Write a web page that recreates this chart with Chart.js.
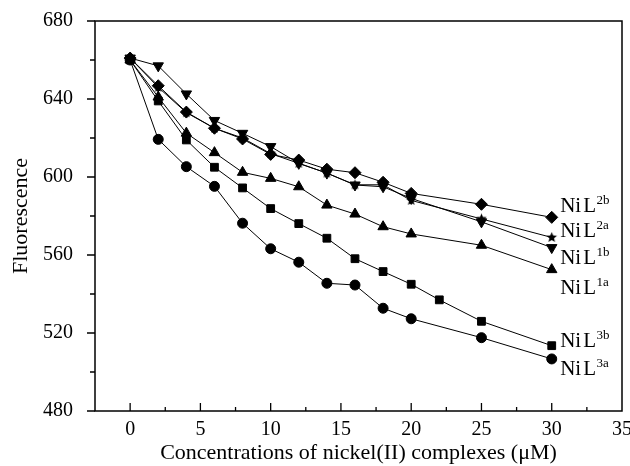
<!DOCTYPE html>
<html>
<head>
<meta charset="utf-8">
<script src="https://cdn.jsdelivr.net/npm/chart.js@4/dist/chart.umd.min.js"></script>
<style>
  html, body { margin: 0; padding: 0; background: #fff; }
</style>
</head>
<body>
<canvas id="myChart" width="630" height="466"></canvas>
<script>
// concentrations (uM)
const conc = [0, 2, 4, 6, 8, 10, 12, 14, 16, 18, 20, 25, 30];
const conc3b = [0, 2, 4, 6, 8, 10, 12, 14, 16, 18, 20, 22, 25, 30];

// fluorescence readings
const nil2b = [661, 646.8, 633.3, 625, 619.5, 611.6, 608.7, 604, 602.2, 597.3, 591.6, 586, 579.3];
const nil2a = [661, 646, 633, 625, 620, 612, 607, 602, 596, 596, 588, 578.5, 569];
const nil1b = [661, 657, 642.6, 629, 622.4, 615.6, 607, 602, 595.9, 595, 589, 577, 563.8];
const nil1a = [660, 641, 622.5, 612.5, 602.4, 599.3, 595, 585.6, 581, 574.5, 570.8, 565, 552.5];
const nil3b = [660, 639, 619, 605, 594.4, 583.8, 576.1, 568.6, 558.1, 551.5, 545, 537, 526, 513.5];
const nil3a = [660, 619.3, 605.3, 595.2, 576.3, 563.2, 556.3, 545.5, 544.6, 532.7, 527.3, 517.6, 506.7];

// series name labels on the right (superscript part, value where label sits)
const labelSup = ["2b", "2a", "1b", "1a", "3b", "3a"];
const labelAt = [585.6, 572.8, 559, 543.6, 516.4, 502];

const serif = "'Liberation Serif', 'Times New Roman', serif";

function makeStar(r) {
    let c = document.createElement("canvas");
    let s = Math.ceil(r * 2 + 2);
    c.width = s; c.height = s;
    let g = c.getContext("2d");
    g.fillStyle = "#000";
    g.beginPath();
    for (let i = 0; i < 10; i++) {
        let rr = i % 2 ? r * 0.45 : r;
        let ang = -Math.PI / 2 + i * Math.PI / 5;
        g.lineTo(s / 2 + rr * Math.cos(ang), s / 2 + rr * Math.sin(ang));
    }
    g.closePath();
    g.fill();
    return c;
}

function points(xs, ys) {
    return xs.map(function (x, i) { return { x: x, y: ys[i] }; });
}

function series(xs, ys, style, radius, rotation) {
    return {
        data: points(xs, ys),
        borderColor: "#000",
        backgroundColor: "#000",
        borderWidth: 1,
        pointStyle: style,
        pointRadius: radius,
        pointBorderWidth: 1,
        pointRotation: rotation || 0,
        tension: 0
    };
}

const axesBox = {
    id: "axesBox",
    afterDraw(chart) {
        const ctx = chart.ctx;
        const a = chart.chartArea;
        const x = chart.scales.x, y = chart.scales.y;
        ctx.save();
        ctx.strokeStyle = "#000";
        ctx.lineWidth = 1.5;
        ctx.strokeRect(a.left, a.top, a.right - a.left, a.bottom - a.top);

        ctx.lineWidth = 1.3;
        ctx.beginPath();
        for (let v = 480; v <= 680; v += 20) {
            let py = y.getPixelForValue(v);
            let len = v % 40 === 0 ? 8 : 5;
            ctx.moveTo(a.left - len, py);
            ctx.lineTo(a.left, py);
        }
        for (let v = 0; v < 35; v += 2.5) {
            let px = x.getPixelForValue(v);
            let len = v % 5 === 0 ? 8 : 4;
            ctx.moveTo(px, a.bottom);
            ctx.lineTo(px, a.bottom - len);
        }
        ctx.stroke();

        // series names
        ctx.fillStyle = "#000";
        ctx.textBaseline = "alphabetic";
        let lx = x.getPixelForValue(30.6);
        labelSup.forEach(function (sup, i) {
            let base = y.getPixelForValue(labelAt[i]) + 7;
            ctx.font = "21px " + serif;
            ctx.fillText("Ni", lx, base);
            let w1 = ctx.measureText("Ni").width + 2;
            ctx.fillText("L", lx + w1, base);
            let w2 = ctx.measureText("L").width;
            ctx.font = "13px " + serif;
            ctx.fillText(sup, lx + w1 + w2 + 0.5, base - 8);
        });
        ctx.restore();
    }
};

new Chart("myChart", {
    type: "line",
    data: {
        datasets: [
            series(conc3b, nil3b, "rect", 5.5),
            series(conc, nil3a, "circle", 5),
            series(conc, nil1a, "triangle", 6),
            series(conc, nil1b, "triangle", 6, 180),
            series(conc, nil2a, makeStar(5.5), 5),
            series(conc, nil2b, "rectRot", 6)
        ]
    },
    options: {
        responsive: false,
        devicePixelRatio: 1,
        animation: false,
        layout: { padding: { left: 0, top: 21, right: 8, bottom: 0 } },
        plugins: {
            legend: { display: false },
            tooltip: { enabled: false }
        },
        scales: {
            x: {
                type: "linear",
                min: -2.5,
                max: 35,
                grid: { display: false, drawTicks: false },
                border: { display: false },
                ticks: {
                    stepSize: 5,
                    includeBounds: false,
                    color: "#000",
                    padding: 7,
                    font: { family: serif, size: 20 }
                },
                title: {
                    display: true,
                    text: "Concentrations of nickel(II) complexes (\u03bcM)",
                    color: "#000",
                    padding: { top: 1, bottom: 0 },
                    font: { family: serif, size: 22 }
                },
                afterFit(s) {
                    s.height = 55;
                    s.paddingLeft = 0;
                    s.paddingRight = 0;
                }
            },
            y: {
                min: 480,
                max: 680,
                grid: { display: false, drawTicks: false },
                border: { display: false },
                ticks: {
                    stepSize: 40,
                    color: "#000",
                    padding: 22,
                    font: { family: serif, size: 20 }
                },
                title: {
                    display: true,
                    text: "Fluorescence",
                    color: "#000",
                    padding: { top: 8, bottom: 0 },
                    font: { family: serif, size: 22 }
                },
                afterFit(s) {
                    s.width = 95;
                    s.paddingTop = 0;
                    s.paddingBottom = 0;
                }
            }
        }
    },
    plugins: [axesBox]
});
</script>
</body>
</html>
